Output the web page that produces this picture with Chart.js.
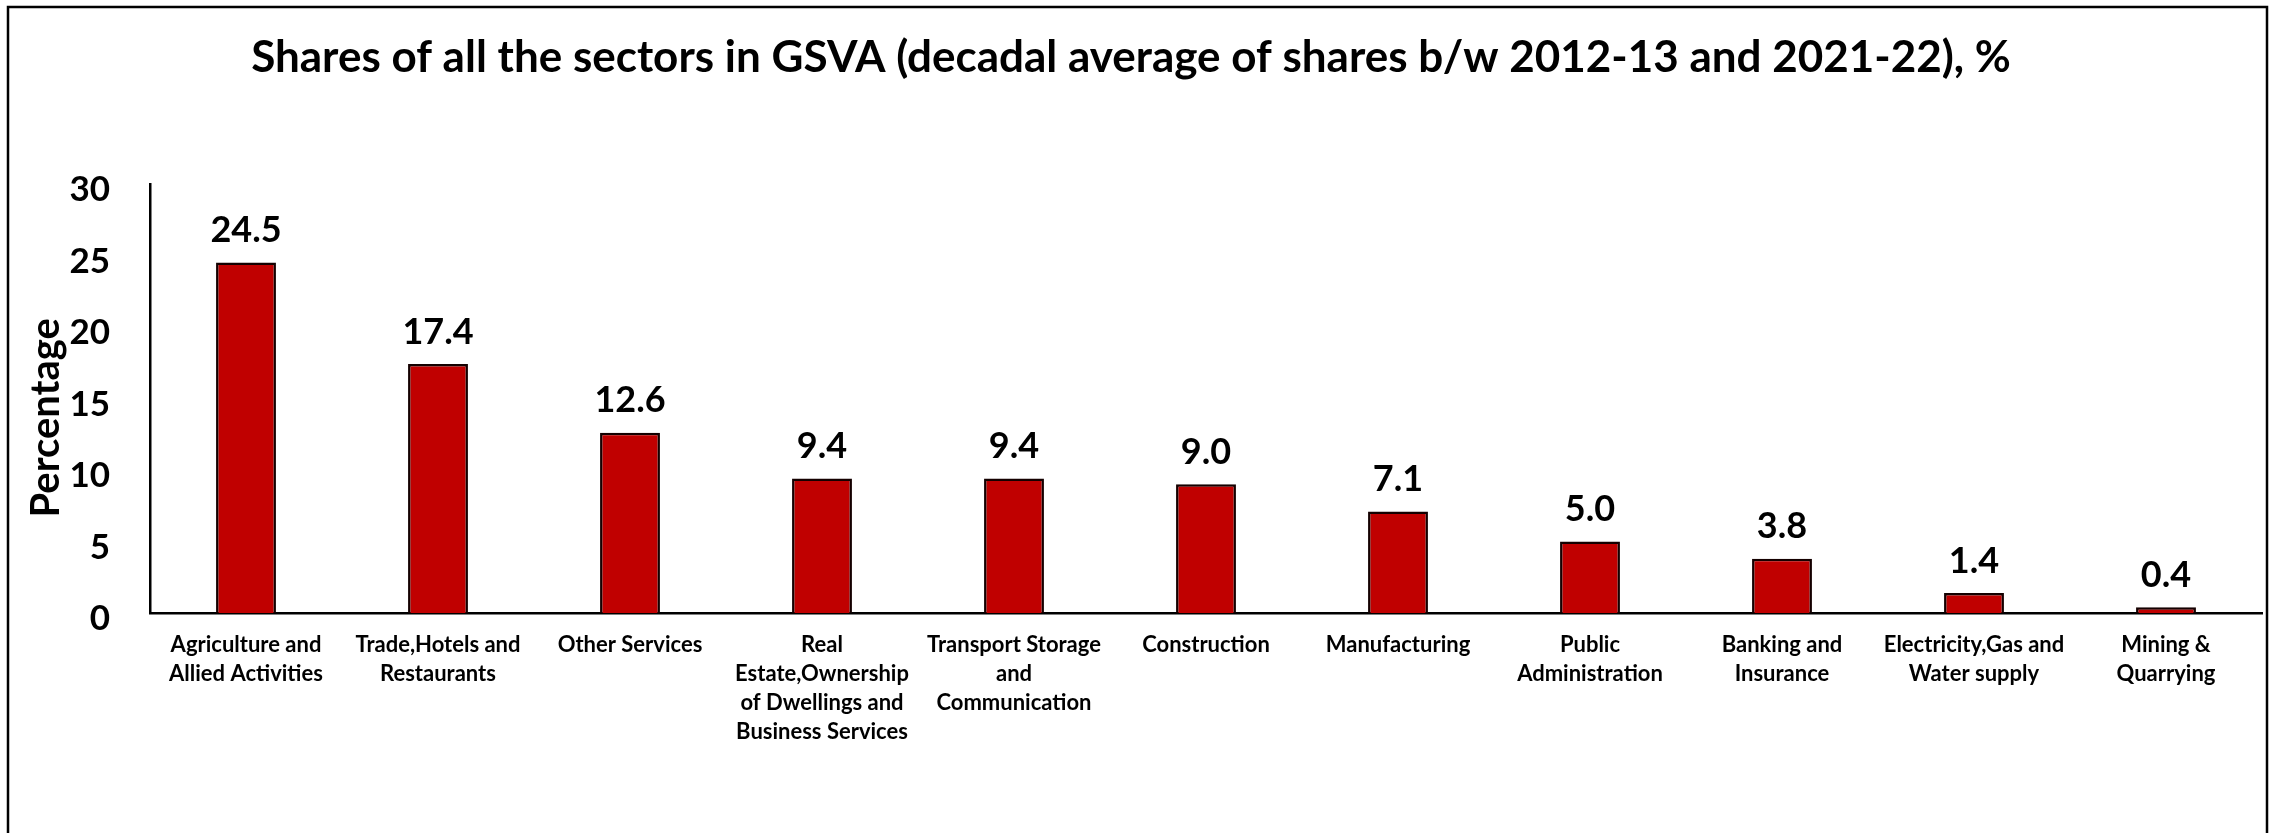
<!DOCTYPE html>
<html>
<head>
<meta charset="utf-8">
<script src="https://cdn.jsdelivr.net/npm/chart.js@4/dist/chart.umd.min.js"></script>
<style>
  html, body { margin: 0; padding: 0; background: #ffffff; }
  #wrap { position: relative; width: 2269px; height: 833px; }
</style>
</head>
<body>
<div id="wrap"><canvas id="c" width="2269" height="833"></canvas></div>
<script>
const titleText = "Shares of all the sectors in GSVA (decadal average of shares b/w 2012-13 and 2021-22), %";
const yAxisTitle = "Percentage";
const categories = [
  ["Agriculture and", "Allied Activities"],
  ["Trade,Hotels and", "Restaurants"],
  ["Other Services"],
  ["Real", "Estate,Ownership", "of Dwellings and", "Business Services"],
  ["Transport Storage", "and", "Communication"],
  ["Construction"],
  ["Manufacturing"],
  ["Public", "Administration"],
  ["Banking and", "Insurance"],
  ["Electricity,Gas and", "Water supply"],
  ["Mining &", "Quarrying"]
];
const shares = [24.5, 17.4, 12.6, 9.4, 9.4, 9.0, 7.1, 5.0, 3.8, 1.4, 0.4];
const yMin = 0, yMax = 30, yStep = 5;

const FONT = "Lato, 'Open Sans', sans-serif";

const framePlugin = {
  id: 'frame',
  beforeDraw(chart) {
    const ctx = chart.ctx;
    ctx.save();
    ctx.fillStyle = '#ffffff';
    ctx.fillRect(0, 0, chart.width, chart.height);
    ctx.strokeStyle = '#000000';
    ctx.lineWidth = 2.5;
    ctx.strokeRect(8, 7, chart.width - 10, chart.height + 20);
    ctx.restore();
  }
};

const valueLabels = {
  id: 'valueLabels',
  afterDatasetsDraw(chart) {
    const ctx = chart.ctx;
    const meta = chart.getDatasetMeta(0);
    ctx.save();
    ctx.font = "bold 36px " + FONT;
    ctx.fillStyle = '#000000';
    ctx.textAlign = 'center';
    ctx.textBaseline = 'bottom';
    meta.data.forEach((bar, i) => {
      ctx.fillText(shares[i].toFixed(1), bar.x, bar.y - 14);
    });
    ctx.restore();
  }
};

new Chart(document.getElementById('c'), {
  type: 'bar',
  data: {
    labels: categories,
    datasets: [{
      data: shares,
      backgroundColor: '#C00000',
      borderColor: '#140000',
      borderWidth: 2.5,
      borderSkipped: 'start',
      barPercentage: 0.312,
      categoryPercentage: 1.0
    }]
  },
  options: {
    responsive: false,
    animation: false,
    devicePixelRatio: 1,
    layout: { padding: { left: 0, right: 7, top: 0, bottom: 0 } },
    plugins: {
      legend: { display: false },
      tooltip: { enabled: false },
      title: {
        display: true,
        text: titleText,
        color: '#000000',
        font: { family: FONT, size: 44, weight: 'bold', lineHeight: 1.2 },
        padding: { top: 31, bottom: 100 }
      }
    },
    scales: {
      x: {
        grid: { display: false, drawTicks: false },
        border: { display: true, color: '#000000', width: 2.5 },
        ticks: {
          color: '#000000',
          font: { family: FONT, size: 22, weight: 'bold', lineHeight: 1.32 },
          padding: 17,
          maxRotation: 0,
          minRotation: 0,
          autoSkip: false
        },
        afterFit(scale) { scale.height = 220; }
      },
      y: {
        min: yMin,
        max: yMax,
        grid: { display: false, drawTicks: false },
        border: { display: true, color: '#000000', width: 2.5 },
        ticks: {
          stepSize: yStep,
          color: '#000000',
          font: { family: FONT, size: 35, weight: 'bold' },
          padding: 40,
          labelOffset: 6
        },
        title: {
          display: true,
          text: yAxisTitle + "    ",
          color: '#000000',
          font: { family: FONT, size: 40, weight: 'bold', lineHeight: 1.2 },
          padding: { top: 22, bottom: 0 }
        },
        afterFit(scale) { scale.width = 150; }
      }
    }
  },
  plugins: [framePlugin, valueLabels]
});
</script>
</body>
</html>
